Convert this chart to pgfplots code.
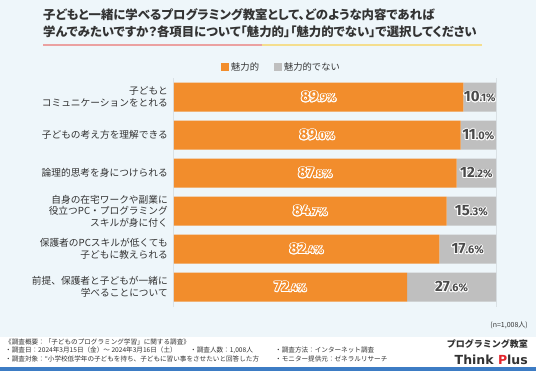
\documentclass[border=0pt]{standalone}
\usepackage{fontspec}
\setmainfont{Noto Sans CJK JP}
\newfontfamily\titlefont[RawFeature=+palt]{Noto Sans CJK JP}
\newfontfamily\numfont{Fira Sans}
\newfontfamily\logofont{DejaVu Sans}
\usepackage{pgfplots}
\usepackage{pgfplotstable}
\pgfplotsset{compat=1.18}

\definecolor{bgblue}{HTML}{EEF6FA}
\definecolor{barorange}{HTML}{F28D2C}
\definecolor{bargray}{HTML}{BFBFBF}
\definecolor{txtgray}{HTML}{333333}
\definecolor{lbldark}{HTML}{4A4A4A}
\definecolor{axgray}{HTML}{555555}
\definecolor{ulpink}{HTML}{EBA1A1}
\definecolor{ulyellow}{HTML}{F4DE8E}
\definecolor{lineblue}{HTML}{3D7CC4}
\definecolor{logored}{HTML}{E3242B}

\newcommand\outl[3]{\tikz[baseline=(m.base)]{%
  \foreach \a in {0,30,...,330}{\node[inner sep=0pt,text=#3] at (\a:0.9pt) {#1};}%
  \node[inner sep=0pt,text=#2] (m) {#1};}}
\def\splitaux#1.#2\relax{{\numfont\bfseries\fontsize{15}{15}\selectfont#1}{\numfont\bfseries\fontsize{11}{11}\selectfont.#2\%}}
\newcommand\lbl[2]{\edef\lblval{\pgfplotspointmeta}\outl{\expandafter\splitaux\lblval\relax}{#1}{#2}}

\pgfplotstableread{
y attr non
0 89.9 10.1
1 89.0 11.0
2 87.8 12.2
3 84.7 15.3
4 82.4 17.6
5 72.4 27.6
}\data

\begin{document}
\begin{tikzpicture}
\useasboundingbox (0pt,0pt) rectangle (536pt,-371pt);
\fill[bgblue] (0pt,0pt) rectangle (536pt,-337pt);
\fill[white] (0pt,-337pt) rectangle (536pt,-371pt);
\fill[lineblue] (0pt,-367.5pt) rectangle (536pt,-371pt);

% title
\node[anchor=base west,inner sep=0pt,text=txtgray,font=\titlefont\bfseries\fontsize{12.4}{13}\selectfont] at (43pt,-20pt) {子どもと一緒に学べるプログラミング教室として、どのような内容であれば};
\node[anchor=base west,inner sep=0pt,text=txtgray,font=\titlefont\bfseries\fontsize{12.4}{13}\selectfont] at (43pt,-37pt) {学んでみたいですか？各項目について「魅力的」「魅力的でない」で選択してください};
\fill[ulpink] (43pt,-44pt) rectangle (262pt,-46pt);
\fill[ulyellow] (262pt,-44pt) rectangle (482pt,-46pt);

\begin{axis}[
  at={(174pt,-306pt)}, anchor=south west,
  scale only axis, width=322pt, height=228pt,
  xmin=0, xmax=100, ymin=-0.5, ymax=5.5, y dir=reverse,
  xbar stacked, bar width=29pt,
  axis line style={draw=none},
  xtick=\empty, ytick={0,...,5},
  yticklabels={{子どもと\\コミュニケーションをとれる},{子どもの考え方を理解できる},{論理的思考を身につけられる},{自身の在宅ワークや副業に\\役立つPC・プログラミング\\スキルが身に付く},{保護者のPCスキルが低くても\\子どもに教えられる},{前提、保護者と子どもが一緒に\\学べることについて}},
  yticklabel style={align=right,inner sep=0pt,xshift=-6pt,text=txtgray,font=\fontsize{9.7}{11.5}\selectfont},
  major tick length=0pt,
  legend columns=2,
  legend style={at={(rel axis cs:0.1366,1)},anchor=south west,yshift=2pt,draw=none,fill=none,
    font=\fontsize{9.3}{10}\selectfont,text=txtgray,
    /tikz/every even column/.append style={column sep=13pt}},
  legend image code/.code={\fill[#1] (0pt,-4pt) rectangle (8pt,4pt);},
]
\addplot[fill=barorange,draw=none] table[x=attr,y=y] {\data};
\addlegendentry{魅力的}
\addplot[fill=bargray,draw=none] table[x=non,y=y] {\data};
\addlegendentry{魅力的でない}
\draw[axgray,line width=1pt] ([yshift=-1pt]rel axis cs:0,0) -- ([yshift=1pt]rel axis cs:0,1);
\draw[axgray,line width=1pt] ([yshift=-1pt]rel axis cs:1,0) -- ([yshift=1pt]rel axis cs:1,1);
\end{axis}

\begin{axis}[
  at={(174pt,-306pt)}, anchor=south west,
  scale only axis, width=322pt, height=228pt,
  xmin=0, xmax=100, ymin=-0.5, ymax=5.5, y dir=reverse,
  hide axis, clip=false,
]
\addplot[draw=none, mark=none, point meta=explicit symbolic,
  nodes near coords={\lbl{barorange}{white}},
  nodes near coords style={anchor=center,inner sep=0pt},
] table[x expr=\thisrow{attr}/2,y=y,meta=attr] {\data};
\addplot[draw=none, mark=none, point meta=explicit symbolic,
  nodes near coords={\lbl{lbldark}{white}},
  nodes near coords style={anchor=center,inner sep=0pt},
] table[x expr=\thisrow{attr}+\thisrow{non}/2,y=y,meta=non] {\data};
\end{axis}

\node[anchor=base east,inner sep=0pt,text=txtgray,font=\fontsize{7}{8}\selectfont] at (528pt,-327.5pt) {(n=1,008人)};

% footer
\begin{scope}[every node/.style={anchor=base west,inner sep=0pt,text=txtgray,font=\fontsize{6.6}{7}\selectfont}]
\node at (5pt,-344.5pt) {《調査概要：「子どものプログラミング学習」に関する調査》};
\node at (5pt,-353pt) {・調査日：2024年3月15日（金）〜 2024年3月16日（土）};
\node at (190pt,-353pt) {・調査人数：1,008人};
\node at (275pt,-353pt) {・調査方法：インターネット調査};
\node at (5pt,-361.5pt) {・調査対象：“小学校低学年の子どもを持ち、子どもに習い事をさせたいと回答した方};
\node at (275pt,-361.5pt) {・モニター提供元：ゼネラルリサーチ};
\end{scope}
\node[anchor=base east,inner sep=0pt,text=txtgray,font=\bfseries\fontsize{9}{10}\selectfont] at (528pt,-348pt) {プログラミング教室};
\node[anchor=base east,inner sep=0pt,font=\logofont\bfseries\fontsize{12.5}{13}\selectfont] at (528pt,-364.5pt) {\textcolor{txtgray}{Think }\textcolor{logored}{P}\textcolor{txtgray}{lus}};
\end{tikzpicture}
\end{document}
